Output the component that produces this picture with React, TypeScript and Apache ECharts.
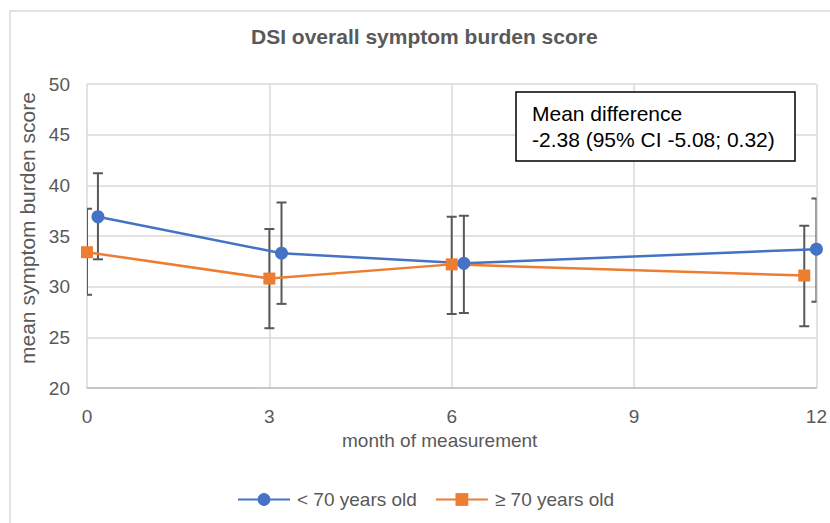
import React, { useEffect, useRef } from "react";
import * as echarts from "echarts";

const seriesNames = ["< 70 years old", "≥ 70 years old"];
const youngX = [0.18, 3.2, 6.2, 12];
const youngY = [36.9, 33.3, 32.3, 33.7];
const youngLow = [32.7, 28.3, 27.4, 28.5];
const youngHigh = [41.2, 38.3, 37.0, 38.7];
const oldX = [0, 3, 6, 11.8];
const oldY = [33.4, 30.8, 32.2, 31.1];
const oldLow = [29.2, 25.9, 27.3, 26.1];
const oldHigh = [37.7, 35.7, 36.9, 36.0];
const annotationLines = ["Mean difference", "-2.38 (95% CI -5.08; 0.32)"];

const FONT = "'Liberation Sans', Arial, sans-serif";
const GREY = "#595959";

function errorSeries(xs: number[], lows: number[], highs: number[]) {
  return {
    type: "custom",
    clip: true,
    z: 1,
    silent: true,
    data: xs.map((x, i) => [x, lows[i], highs[i]]),
    encode: { x: 0, y: [1, 2] },
    renderItem: (params: any, api: any) => {
      const x = api.value(0);
      const lo = api.coord([x, api.value(1)]);
      const hi = api.coord([x, api.value(2)]);
      const hw = 5;
      const style = { stroke: "#595959", lineWidth: 2, fill: "none" };
      const cs = params.coordSys;
      const children = [
        { type: "line", shape: { x1: lo[0], y1: lo[1], x2: hi[0], y2: hi[1] }, style },
        { type: "line", shape: { x1: lo[0] - hw, y1: lo[1], x2: lo[0] + hw, y2: lo[1] }, style },
        { type: "line", shape: { x1: hi[0] - hw, y1: hi[1], x2: hi[0] + hw, y2: hi[1] }, style },
      ];
      return {
        type: "group",
        clipPath: { type: "rect", shape: { x: cs.x, y: cs.y, width: cs.width, height: cs.height } },
        children,
      };
    },
  };
}

export default function App() {
  const ref = useRef<HTMLDivElement>(null);
  useEffect(() => {
    document.body.style.margin = "0";
    const chart = echarts.init(ref.current!, null, { renderer: "svg" });
    chart.setOption({
      animation: false,
      backgroundColor: "#ffffff",
      textStyle: { fontFamily: FONT },
      title: {
        text: "DSI overall symptom burden score",
        left: 246,
        top: 21,
        textStyle: { fontFamily: FONT, fontSize: 21, fontWeight: "bold", color: GREY },
      },
      grid: { left: 87, right: 11, top: 84, bottom: 135, containLabel: false },
      legend: {
        bottom: 9,
        left: 232,
        itemWidth: 52,
        itemHeight: 16,
        itemGap: 18,
        textStyle: { fontFamily: FONT, fontSize: 19, color: GREY, padding: [0, 0, 0, 2] },
        data: seriesNames,
      },
      xAxis: {
        type: "value",
        min: 0,
        max: 12,
        interval: 3,
        name: "month of measurement",
        nameLocation: "middle",
        nameGap: 43,
        nameTextStyle: { fontFamily: FONT, fontSize: 19, color: GREY, padding: [0, 24, 0, 0] },
        axisLine: { show: true, lineStyle: { color: "#bfbfbf", width: 1.5 } },
        axisTick: { show: false },
        axisLabel: { fontFamily: FONT, fontSize: 19, color: GREY, margin: 19 },
        splitLine: { show: true, lineStyle: { color: "#d9d9d9", width: 1.5 } },
      },
      yAxis: {
        type: "value",
        min: 20,
        max: 50,
        interval: 5,
        name: "mean symptom burden score",
        nameLocation: "middle",
        nameGap: 36,
        nameTextStyle: { fontFamily: FONT, fontSize: 21, color: GREY, padding: [0, 0, 0, 16] },
        axisLine: { show: false },
        axisTick: { show: false },
        axisLabel: { fontFamily: FONT, fontSize: 19, color: GREY, margin: 17 },
        splitLine: { show: true, lineStyle: { color: "#d9d9d9", width: 1.5 } },
      },
      graphic: [
        {
          type: "rect",
          silent: true,
          z: -10,
          shape: { x: 10, y: 11, width: 840, height: 540 },
          style: { fill: "none", stroke: "#d9d9d9", lineWidth: 1.5 },
        },
        {
          type: "rect",
          z: 100,
          shape: { x: 516, y: 92, width: 279, height: 69 },
          style: { fill: "#ffffff", stroke: "#000000", lineWidth: 1.5 },
        },
        {
          type: "text",
          z: 101,
          x: 532,
          y: 100,
          style: {
            text: annotationLines.join("\n"),
            fontFamily: FONT,
            fontSize: 21,
            lineHeight: 26,
            fill: "#000000",
          },
        },
      ],
      series: [
        errorSeries(youngX, youngLow, youngHigh),
        errorSeries(oldX, oldLow, oldHigh),
        {
          name: seriesNames[0],
          type: "line",
          z: 3,
          data: youngX.map((x, i) => [x, youngY[i]]),
          symbol: "circle",
          symbolSize: 13,
          clip: false,
          lineStyle: { color: "#4472c4", width: 2.5 },
          itemStyle: { color: "#4472c4" },
        },
        {
          name: seriesNames[1],
          type: "line",
          z: 3,
          data: oldX.map((x, i) => [x, oldY[i]]),
          symbol: "rect",
          symbolSize: 12,
          clip: false,
          lineStyle: { color: "#ed7d31", width: 2.5 },
          itemStyle: { color: "#ed7d31" },
        },
      ],
    });
    return () => chart.dispose();
  }, []);
  return <div ref={ref} style={{ width: 830, height: 523 }} />;
}
